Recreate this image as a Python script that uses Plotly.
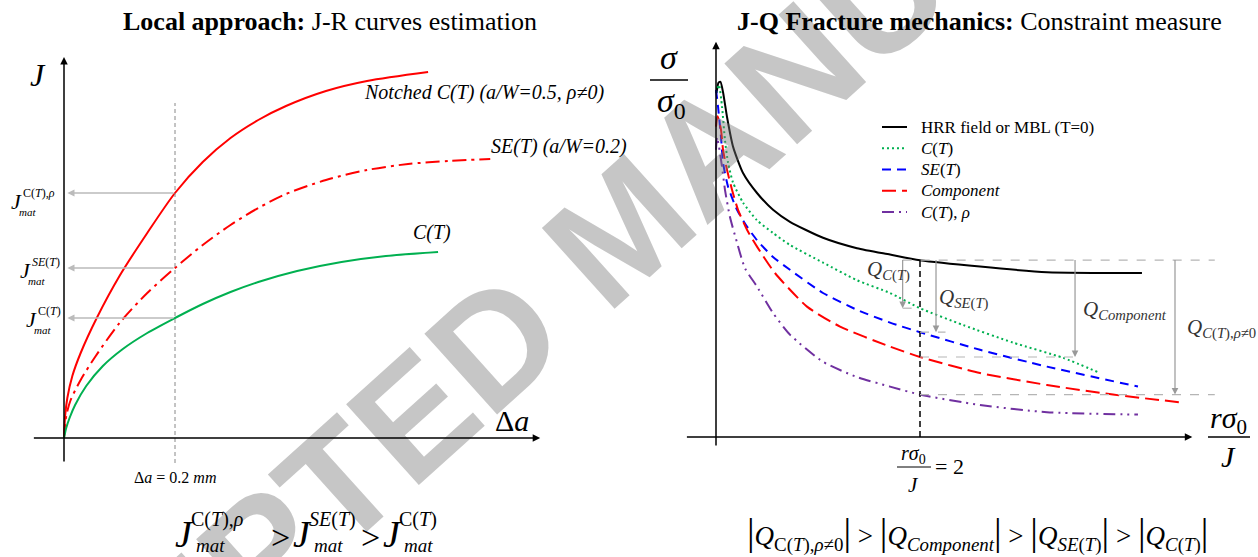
import numpy as np
import plotly.graph_objects as go

# ---------------- data ----------------
# Left panel: J-R curves (crack extension in mm, J in arbitrary units)
DA_NOTCHED = [0, 0.002, 0.006, 0.015, 0.030, 0.059, 0.100, 0.150, 0.200, 0.250, 0.300, 0.350, 0.400, 0.472, 0.546, 0.656]
J_NOTCHED = [0, 0.22, 0.40, 0.62, 0.85, 1.20, 1.62, 2.05, 2.45, 2.76, 3.00, 3.18, 3.32, 3.47, 3.57, 3.66]

DA_SE = [0, 0.004, 0.012, 0.030, 0.056, 0.100, 0.150, 0.200, 0.250, 0.300, 0.350, 0.400, 0.472, 0.546, 0.620, 0.694, 0.768]
J_SE = [0, 0.22, 0.38, 0.58, 0.81, 1.15, 1.45, 1.70, 1.93, 2.13, 2.30, 2.44, 2.58, 2.68, 2.74, 2.77, 2.79]

DA_CT = [0, 0.004, 0.010, 0.020, 0.040, 0.070, 0.106, 0.150, 0.200, 0.250, 0.300, 0.350, 0.420, 0.500, 0.580, 0.674]
J_CT = [0, 0.10, 0.20, 0.33, 0.52, 0.72, 0.89, 1.05, 1.20, 1.34, 1.46, 1.56, 1.67, 1.76, 1.82, 1.86]

DA_REF = 0.2                 # mm
J_MAT = [2.45, 1.70, 1.20]   # J of notched C(T), SE(T), C(T) at DA_REF

# Right panel: normalised opening stress vs r*sigma0/J
X_HRR = [0.005, 0.025, 0.044, 0.069, 0.108, 0.167, 0.265, 0.402, 0.559, 0.725, 1.049, 1.382, 1.706, 2.0, 2.588, 3.245, 4.176]
S_HRR = [4.30, 4.43, 4.44, 4.31, 4.00, 3.63, 3.30, 3.05, 2.84, 2.69, 2.49, 2.36, 2.28, 2.21, 2.13, 2.06, 2.05]

X_CT = [0.0, 0.029, 0.059, 0.088, 0.118, 0.167, 0.265, 0.402, 0.559, 0.725, 1.049, 1.382, 1.706, 2.0, 2.422, 2.912, 3.402, 3.765]
S_CT = [4.30, 4.40, 4.13, 3.71, 3.43, 3.18, 2.93, 2.71, 2.55, 2.40, 2.18, 1.96, 1.80, 1.61, 1.40, 1.18, 0.99, 0.80]

X_SE = [0.0, 0.02, 0.049, 0.069, 0.118, 0.206, 0.304, 0.402, 0.559, 0.725, 1.049, 1.382, 1.706, 2.0, 2.588, 3.245, 4.137]
S_SE = [4.34, 4.13, 3.75, 3.43, 3.13, 2.84, 2.63, 2.46, 2.25, 2.09, 1.80, 1.59, 1.43, 1.31, 1.09, 0.88, 0.63]

X_COMP = [0.0, 0.015, 0.049, 0.069, 0.108, 0.157, 0.216, 0.304, 0.402, 0.578, 0.892, 1.216, 1.706, 2.0, 2.588, 3.245, 3.892, 4.578]
S_COMP = [3.88, 4.01, 3.84, 3.59, 3.34, 3.09, 2.84, 2.59, 2.38, 2.05, 1.63, 1.38, 1.13, 1.00, 0.80, 0.65, 0.53, 0.43]

X_RHO = [0.0, 0.01, 0.029, 0.059, 0.088, 0.137, 0.206, 0.284, 0.402, 0.559, 0.725, 1.049, 1.382, 1.706, 2.0, 2.588, 3.245, 4.137]
S_RHO = [3.59, 3.75, 3.63, 3.38, 3.09, 2.75, 2.43, 2.11, 1.88, 1.55, 1.28, 0.94, 0.75, 0.63, 0.53, 0.40, 0.31, 0.28]

X_REF = 2.0   # r*sigma0/J where Q is evaluated

SERIES_NAMES = ["HRR field or MBL (T=0)", "<i>C</i>(<i>T</i>)", "<i>SE</i>(<i>T</i>)", "<i>Component</i>",
                "<i>C</i>(<i>T</i>), <i>ρ</i>"]

# ---------------- figure ----------------
W, H = 1258, 557
SERIF = "Liberation Serif"
SANS = "Liberation Sans"

fig = go.Figure()

GREEN = "#00b050"
RED = "#ff0000"
BLUE = "#0000ff"
PURPLE = "#7030a0"

# left curves
fig.add_trace(go.Scatter(x=DA_NOTCHED, y=J_NOTCHED, mode="lines", line=dict(color=RED, width=2, shape="spline", smoothing=0.8),
                         showlegend=False, xaxis="x", yaxis="y"))
fig.add_trace(go.Scatter(x=DA_SE, y=J_SE, mode="lines", line=dict(color=RED, width=2, dash="14px,5px,3px,5px", shape="spline", smoothing=0.8),
                         showlegend=False, xaxis="x", yaxis="y"))
fig.add_trace(go.Scatter(x=DA_CT, y=J_CT, mode="lines", line=dict(color=GREEN, width=2, shape="spline", smoothing=0.8),
                         showlegend=False, xaxis="x", yaxis="y"))

# right curves
RIGHT = [(X_HRR, S_HRR, "black", "solid"),
         (X_CT, S_CT, GREEN, "2px,3px"),
         (X_SE, S_SE, BLUE, "9px,6px"),
         (X_COMP, S_COMP, RED, "14px,6px"),
         (X_RHO, S_RHO, PURPLE, "12px,5px,2px,5px,2px,5px")]
for (xs, ys, col, dash), name in zip(RIGHT, SERIES_NAMES):
    fig.add_trace(go.Scatter(x=xs, y=ys, mode="lines", name=name, showlegend=False,
                             line=dict(color=col, width=2, dash=dash, shape="spline", smoothing=0.6),
                             xaxis="x2", yaxis="y2"))

# ---------------- axes ----------------
# left: 555 px per mm, 100 px per J unit; origin at (64, 438)
# right: 102 px per unit, 80 px per stress unit; origin at (716, 437)
hidden = dict(visible=False, showgrid=False, zeroline=False, fixedrange=True)
fig.update_layout(
    xaxis=dict(domain=[0, 0.5], range=[-64 / 555, 565 / 555], anchor="y", **hidden),
    yaxis=dict(domain=[0, 1], range=[-119 / 100, 438 / 100], anchor="x", **hidden),
    xaxis2=dict(domain=[0.5, 1], range=[-87 / 102, 542 / 102], anchor="y2", **hidden),
    yaxis2=dict(domain=[0, 1], range=[-120 / 80, 437 / 80], anchor="x2", **hidden),
)


def P(px, py):
    return px / W, 1 - py / H


def text(px, py, s, size, xa="center", ya="middle", fam=SERIF, color="#000"):
    x, y = P(px, py)
    fig.add_annotation(x=x, y=y, xref="paper", yref="paper", text=s, showarrow=False,
                       xanchor=xa, yanchor=ya, borderpad=0, font=dict(family=fam, size=size, color=color))


def arrow(x, y, ax, ay, xr, yr, color="black", width=1.5, head=2, size=1.0):
    fig.add_annotation(x=x, y=y, ax=ax, ay=ay, xref=xr, yref=yr, axref=xr, ayref=yr, text="",
                       showarrow=True, arrowhead=head, arrowsize=size, arrowwidth=width, arrowcolor=color, standoff=0)


def pline(px0, py0, px1, py1, color="black", width=1.2, dash="solid"):
    x0, y0 = P(px0, py0)
    x1, y1 = P(px1, py1)
    fig.add_shape(type="line", xref="paper", yref="paper", x0=x0, y0=y0, x1=x1, y1=y1,
                  line=dict(color=color, width=width, dash=dash))


def dline(x0, y0, x1, y1, xr, yr, color, width=1.2, dash="dash"):
    fig.add_shape(type="line", xref=xr, yref=yr, x0=x0, y0=y0, x1=x1, y1=y1,
                  line=dict(color=color, width=width, dash=dash), layer="above")


# watermark
text(622, 228, "ACCEPTED MANUSCRIPT", 158, fam=SANS, color="rgba(120,120,120,0.42)")
fig.layout.annotations[-1].textangle = -42
fig.layout.annotations[-1].font.weight = "bold"

# ---- left panel decorations ----
arrow(0, 3.81, 0, -0.25, "x", "y")             # J axis
arrow(0.858, 0, -0.057, 0, "x", "y")          # delta-a axis
dline(DA_REF, -0.25, DA_REF, 3.35, "x", "y", "#888888", 1, "4px,3px")
for jv in J_MAT:
    arrow(0.006, jv, DA_REF, jv, "x", "y", color="#bbbbbb", width=1.3, head=2, size=1.1)

text(330, 21, "<b>Local approach:</b> J-R curves estimation", 26)
text(38, 75, "<i>J</i>", 32)
text(512, 420, "Δ<i>a</i>", 30)
text(175, 477, "Δ<i>a</i> = 0.2 <i>mm</i>", 16)
text(363, 92, "<i>Notched C(T) (a/W=0.5, ρ≠0)</i>", 20, xa="left")
text(490, 147, "<i>SE(T) (a/W=0.2)</i>", 20, xa="left")
text(412, 233, "<i>C(T)</i>", 20, xa="left")

# J_mat labels on the axis
for (jx, jy, sup) in [(16, 201, "C(<i>T</i>),<i>ρ</i>"),
                      (25, 270, "<i>SE</i>(<i>T</i>)"),
                      (31, 319, "C(<i>T</i>)")]:
    text(jx, jy, "<i>J</i>", 22)
    text(jx + 6, jy - 8, sup, 12, xa="left")
    text(jx + 2, jy + 11, "<i>mat</i>", 11, xa="left")

# bottom-left inequality
for (jx, sup) in [(184, "C(<i>T</i>),<i>ρ</i>"), (302, "<i>SE</i>(<i>T</i>)"), (392, "C(<i>T</i>)")]:
    text(jx, 534, "<i>J</i>", 38)
    text(jx + 6, 519, sup, 20, xa="left")
    text(jx + 11, 545, "<i>mat</i>", 19, xa="left")
text(280, 537, "&gt;", 34)
text(370, 537, "&gt;", 34)

# ---- right panel decorations ----
arrow(0, 4.94, 0, -0.125, "x2", "y2")          # stress axis
arrow(4.67, 0, -0.30, 0, "x2", "y2")           # distance axis

hrr_ref = float(np.interp(X_REF, X_HRR, S_HRR))
q_vals = [float(np.interp(X_REF, X_CT, S_CT)), float(np.interp(X_REF, X_SE, S_SE)),
          float(np.interp(X_REF, X_COMP, S_COMP)), float(np.interp(X_REF, X_RHO, S_RHO))]

dline(X_REF, 0, X_REF, hrr_ref, "x2", "y2", "black", 1.5, "6px,4px")
GR = "#b5b5b5"
dline(1.83, hrr_ref, 4.89, hrr_ref, "x2", "y2", GR)
dline(1.83, q_vals[0], X_REF, q_vals[0], "x2", "y2", GR)
dline(X_REF, q_vals[1], 2.25, q_vals[1], "x2", "y2", GR)
dline(X_REF, q_vals[2], 3.52, q_vals[2], "x2", "y2", GR)
dline(X_REF, q_vals[3], 4.89, q_vals[3], "x2", "y2", GR)
for qx, qv in zip([1.83, 2.157, 3.52, 4.5], q_vals):
    arrow(qx, qv, qx, hrr_ref + 0.02, "x2", "y2", color="#999999", width=1.2, head=2, size=1.1)

text(979, 21, "<b>J-Q Fracture mechanics:</b> Constraint measure", 26)

# legend (drawn by hand for tight row spacing)
for i, ((xs, ys, col, dash), name) in enumerate(zip(RIGHT, SERIES_NAMES)):
    ry = 127 + 21.25 * i
    pline(882, ry, 907, ry, color=col, width=2, dash=dash)
    text(920, ry, name, 17, xa="left")

# sigma / sigma0
text(669, 58, "<i>σ</i>", 34)
pline(650, 80, 688, 80, width=1.3)
text(671, 103, "<i>σ</i><sub>0</sub>", 34)
# r sigma0 / J axis label
text(1228, 420, "<i>rσ</i><sub>0</sub>", 30)
pline(1208, 437, 1250, 437, width=1.3)
text(1228, 456, "<i>J</i>", 30)
# r sigma0 / J = 2
text(913, 454, "<i>rσ</i><sub>0</sub>", 20)
pline(897, 467, 931, 467, width=1)
text(913, 485, "<i>J</i>", 21)
text(934, 466, "= 2", 22, xa="left")

# Q labels
text(866, 270, "<i>Q</i><sub><i>C</i>(<i>T</i>)</sub>", 21, xa="left", color="#333")
text(938, 298, "<i>Q</i><sub><i>SE</i>(<i>T</i>)</sub>", 21, xa="left", color="#333")
text(1082, 310, "<i>Q</i><sub><i>Component</i></sub>", 21, xa="left", color="#333")
text(1186, 328, "<i>Q</i><sub><i>C</i>(<i>T</i>),<i>ρ</i>≠0</sub>", 21, xa="left", color="#333")

BAR = '<span style="font-size:38px">|</span>'
formula = (BAR + "<i>Q</i><sub>C(<i>T</i>),<i>ρ</i>≠0</sub>" + BAR + " &gt; " +
           BAR + "<i>Q</i><sub><i>Component</i></sub>" + BAR + " &gt; " +
           BAR + "<i>Q</i><sub><i>SE</i>(<i>T</i>)</sub>" + BAR + " &gt; " +
           BAR + "<i>Q</i><sub><i>C</i>(<i>T</i>)</sub>" + BAR)
text(977, 533, formula, 27)

fig.update_layout(
    width=W, height=H, margin=dict(l=0, r=0, t=0, b=0),
    paper_bgcolor="white", plot_bgcolor="rgba(0,0,0,0)",
    showlegend=False,
)

fig.write_html("out.html")
